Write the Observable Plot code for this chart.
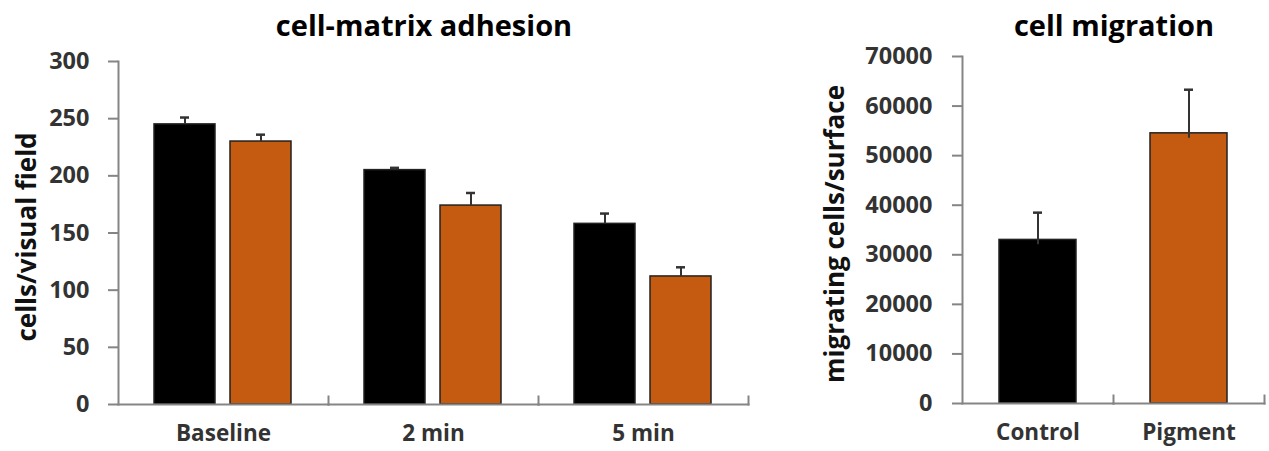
<!DOCTYPE html>
<html><head><meta charset="utf-8">
<script src="https://cdn.jsdelivr.net/npm/d3@7"></script>
<script src="https://cdn.jsdelivr.net/npm/@observablehq/plot@0.6"></script>
<style>
html,body{margin:0;padding:0;background:#fff;}
#wrap{position:relative;width:1269px;height:451px;overflow:hidden;font-family:"Open Sans", sans-serif;}
.title{position:absolute;top:10px;font-weight:bold;font-size:29px;color:#000;transform:translateX(-50%);white-space:nowrap;line-height:1}
#left{position:absolute;left:0;top:45px}
#right{position:absolute;left:780px;top:45px}
</style></head><body>
<div id="wrap">
<div class="title" style="left:424px">cell-matrix adhesion</div>
<div class="title" style="left:1114px">cell migration</div>
<div id="left"></div><div id="right"></div>
</div>
<script>
// ---- data ----
const groups = ["Baseline", "2 min", "5 min"];
const series = ["Control", "Pigment"];
const adhesionControl = [245, 205, 158];
const adhesionControlErr = [6, 2, 9];
const adhesionPigment = [230, 174, 112];
const adhesionPigmentErr = [6, 11, 8];
const adhesionTicks = [0, 50, 100, 150, 200, 250, 300];
const adhesionLabel = "cells/visual field";

const migrationNames = ["Control", "Pigment"];
const migrationValues = [33000, 54500];
const migrationErr = [5500, 8800];
const migrationTicks = [0, 10000, 20000, 30000, 40000, 50000, 60000, 70000];
const migrationLabel = "migrating cells/surface";

const colors = ["#000000", "#C55A11"];

// ---- tables ----
const adhesion = [];
groups.forEach((g, i) => {
  adhesion.push({group: g, series: series[0], value: adhesionControl[i], err: adhesionControlErr[i]});
  adhesion.push({group: g, series: series[1], value: adhesionPigment[i], err: adhesionPigmentErr[i]});
});
const migration = migrationNames.map((n, i) => ({name: n, assay: "migration", value: migrationValues[i], err: migrationErr[i]}));

const axisColor = "#858585";
const textColor = "#333";
const font = {fontFamily: "'Open Sans', sans-serif", fontWeight: "bold", fontSize: "21px", color: textColor, background: "white", overflow: "visible"};

// ---- left chart ----
const left = Plot.plot({
  width: 770, height: 406,
  marginLeft: 118, marginRight: 22, marginTop: 16, marginBottom: 47,
  style: font,
  fx: {domain: groups, padding: 0},
  x: {domain: series, paddingInner: 0.197, paddingOuter: 0.48, axis: null},
  y: {domain: [0, 300]},
  color: {domain: series, range: colors},
  marks: [
    Plot.barY(adhesion, {fx: "group", x: "series", y: "value", fill: "series", stroke: "#222", strokeWidth: 1.5}),
    Plot.ruleX(adhesion, {fx: "group", x: "series", y1: "value", y2: d => d.value + d.err, stroke: "#333", strokeWidth: 2}),
    Plot.tickY(adhesion, {fx: "group", x: "series", y: d => d.value + d.err, insetLeft: 26, insetRight: 26, stroke: "#333", strokeWidth: 2.5}),
    Plot.frame({anchor: "bottom", stroke: axisColor, strokeWidth: 2}),
    Plot.frame({anchor: "right", insetTop: 335, stroke: axisColor, strokeWidth: 2}),
    Plot.frame({anchor: "left", facetAnchor: "left", stroke: axisColor, strokeWidth: 2}),
    Plot.axisY({ticks: adhesionTicks, tickSize: 10, tickPadding: 19, stroke: axisColor, strokeWidth: 2, fill: textColor, label: null, fontSize: 23.5}),
    Plot.text([adhesionLabel], {frameAnchor: "left", facetAnchor: "left", textAnchor: "middle", lineAnchor: "middle", rotate: -90, dx: -91, dy: 4, fontSize: 26, fill: "#111"}),
    Plot.axisFx({anchor: "bottom", tickSize: 0, tickPadding: 21, label: null, fill: textColor, fontSize: 22.5})
  ]
});
document.getElementById("left").append(left);

// ---- right chart ----
const right = Plot.plot({
  width: 489, height: 406,
  marginLeft: 182, marginRight: 5, marginTop: 11, marginBottom: 48,
  style: font,
  fx: {domain: migrationNames, padding: 0},
  x: {domain: ["migration"], paddingInner: 0.49, paddingOuter: 0.245, axis: null},
  y: {domain: [0, 70000]},
  color: {domain: series, range: colors},
  marks: [
    Plot.barY(migration, {fx: "name", x: "assay", y: "value", fill: "name", stroke: "#222", strokeWidth: 1.5}),
    Plot.ruleX(migration, {fx: "name", x: "assay", y1: d => d.value - 1000, y2: d => d.value + d.err, stroke: "#333", strokeWidth: 2}),
    Plot.tickY(migration, {fx: "name", x: "assay", y: d => d.value + d.err, insetLeft: 34, insetRight: 34, stroke: "#333", strokeWidth: 2.5}),
    Plot.frame({anchor: "bottom", stroke: axisColor, strokeWidth: 2}),
    Plot.frame({anchor: "right", insetTop: 339, stroke: axisColor, strokeWidth: 2}),
    Plot.frame({anchor: "left", facetAnchor: "left", stroke: axisColor, strokeWidth: 2}),
    Plot.axisY({ticks: migrationTicks, tickFormat: d3.format("d"), tickSize: 10, tickPadding: 20, stroke: axisColor, strokeWidth: 2, fill: textColor, label: null, fontSize: 23.5}),
    Plot.text([migrationLabel], {frameAnchor: "left", facetAnchor: "left", textAnchor: "middle", lineAnchor: "middle", rotate: -90, dx: -127, dy: 4, fontSize: 26, fill: "#111"}),
    Plot.axisFx({anchor: "bottom", tickSize: 0, tickPadding: 21, label: null, fill: textColor, fontSize: 22.5})
  ]
});
document.getElementById("right").append(right);
</script>
</body></html>
